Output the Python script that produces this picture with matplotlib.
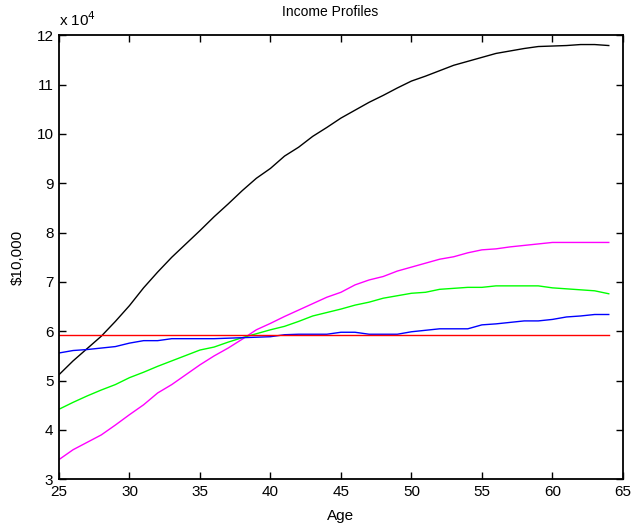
import matplotlib
matplotlib.use("Agg")
import matplotlib.pyplot as plt
from matplotlib.ticker import FuncFormatter

plt.rcParams['font.family'] = ['Liberation Sans', 'DejaVu Sans']

ages = list(range(25, 65))

black = [5.12, 5.40, 5.65, 5.90, 6.20, 6.52, 6.88, 7.20, 7.50, 7.77, 8.04, 8.32,
         8.58, 8.85, 9.10, 9.30, 9.55, 9.73, 9.95, 10.13, 10.32, 10.48, 10.64,
         10.78, 10.93, 11.07, 11.17, 11.28, 11.39, 11.47, 11.55, 11.63, 11.68,
         11.73, 11.77, 11.78, 11.79, 11.81, 11.81, 11.79]
magenta = [3.40, 3.60, 3.75, 3.90, 4.10, 4.31, 4.51, 4.75, 4.92, 5.12, 5.32, 5.50,
           5.66, 5.84, 6.03, 6.16, 6.30, 6.43, 6.56, 6.69, 6.79, 6.94, 7.04,
           7.11, 7.22, 7.30, 7.38, 7.46, 7.51, 7.59, 7.65, 7.67, 7.71, 7.74,
           7.77, 7.80, 7.80, 7.80, 7.80, 7.80]
green = [4.42, 4.56, 4.69, 4.81, 4.92, 5.06, 5.17, 5.29, 5.40, 5.51, 5.62, 5.68,
         5.78, 5.87, 5.95, 6.03, 6.10, 6.20, 6.31, 6.38, 6.45, 6.53, 6.59,
         6.67, 6.72, 6.77, 6.79, 6.85, 6.87, 6.89, 6.89, 6.92, 6.92, 6.92,
         6.92, 6.88, 6.86, 6.84, 6.82, 6.76]
blue = [5.56, 5.61, 5.63, 5.66, 5.69, 5.76, 5.81, 5.81, 5.85, 5.85, 5.85, 5.85,
        5.86, 5.87, 5.88, 5.89, 5.93, 5.94, 5.94, 5.94, 5.98, 5.98, 5.94,
        5.94, 5.94, 5.99, 6.02, 6.05, 6.05, 6.05, 6.13, 6.15, 6.18, 6.21,
        6.21, 6.24, 6.29, 6.31, 6.34, 6.34]
red_level = 5.92

scale = 1e4

fig = plt.figure(figsize=(6.35, 5.25), dpi=100)
ax = fig.add_axes([0.0929, 0.087, 0.888, 0.846])

ax.plot(ages, [v * scale for v in black], color='black', lw=1.0)
ax.plot(ages, [v * scale for v in magenta], color='#ff00ff', lw=1.0)
ax.plot(ages, [v * scale for v in green], color='#00ff00', lw=1.0)
ax.plot(ages, [v * scale for v in blue], color='#0000ff', lw=1.0)
ax.plot([ages[0], ages[-1]], [red_level * scale, red_level * scale], color='#ff0000', lw=1.0)

ax.set_xlim(25, 65)
ax.set_ylim(3 * scale, 12 * scale)
ax.set_xticks(range(25, 70, 5))
ax.set_yticks([v * scale for v in range(3, 13)])
ax.yaxis.set_major_formatter(FuncFormatter(lambda v, p: f"{v / scale:g}"))

ax.tick_params(direction='in', top=True, right=True, labelsize=11, length=5, width=1.0, pad=4)
for s in ax.spines.values():
    s.set_linewidth(1.3)

fig.text(330 / 635, 1 - 12 / 525, "Income Profiles", fontsize=10, ha='center', va='center')
ax.set_xlabel("Age", fontsize=11, labelpad=7)
ax.set_ylabel("$10,000", fontsize=11, labelpad=8)
fig.text(0.0929, 0.945, "x 10$^4$", fontsize=11, ha='left', va='bottom')

fig.savefig("out.png", dpi=100)
